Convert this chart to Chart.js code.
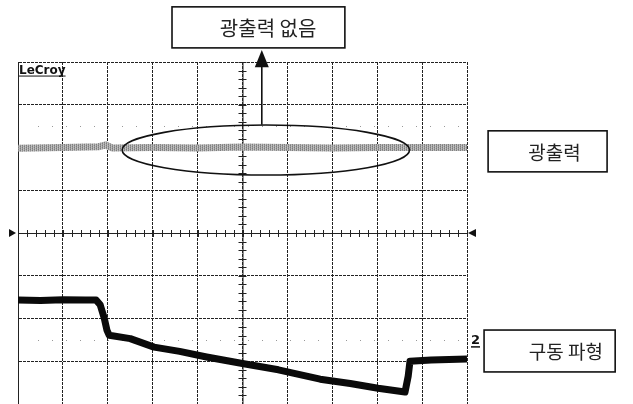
<!DOCTYPE html>
<html><head><meta charset="utf-8">
<script src="https://cdn.jsdelivr.net/npm/chart.js@4/dist/chart.umd.min.js"></script>
<style>html,body{margin:0;padding:0;background:#fff}canvas{display:block}</style>
</head><body>
<canvas id="c" width="633" height="404"></canvas>
<script>
// Oscilloscope screen: 10 horizontal divisions, 8 vertical divisions (centre = 0)
const xDivisions = [0, 10];
const yDivisions = [-4, 4];

// Light output trace (gray, ~flat at +2 div)
const lightX = [0, 1.0, 1.8, 1.95, 2.1, 3.0, 4.0, 5.0, 6.0, 7.0, 8.0, 9.0, 10];
const lightY = [1.98, 2.0, 2.02, 2.06, 1.99, 2.0, 1.99, 2.01, 2.0, 1.99, 2.0, 2.0, 2.0];

// Driving waveform (black)
const driveX = [0, 0.5, 1.0, 1.5, 1.74, 1.83, 1.92, 1.98, 2.03, 2.5, 3.03, 3.6, 4.2, 5.03, 5.8, 6.73, 7.4, 8.02, 8.62, 8.69, 8.73, 9.2, 9.6, 10];
const driveY = [-1.57, -1.58, -1.56, -1.57, -1.57, -1.68, -1.99, -2.27, -2.39, -2.47, -2.67, -2.77, -2.9, -3.06, -3.2, -3.42, -3.52, -3.63, -3.72, -3.35, -3.0, -2.97, -2.96, -2.95];

// Annotation labels
const labelNoOutput = '광출력 없음';
const labelOutput = '광출력';
const labelDrive = '구동 파형';
const brand = 'LeCroy';
const channelMark = '2';

function pts(xs, ys){ return xs.map((x,i)=>({x:x, y:ys[i]})); }

function makePattern(){
  const p = document.createElement('canvas'); p.width = 4; p.height = 4;
  const g = p.getContext('2d');
  const tones = ['#7c7c7c','#b4b4b4','#949494','#c4c4c4'];
  for (let i=0;i<4;i++) for (let j=0;j<4;j++){ g.fillStyle = tones[(i*3+j*2)%4]; g.fillRect(i,j,1,1); }
  return document.getElementById('c').getContext('2d').createPattern(p,'repeat');
}

const overlay = {
  id: 'overlay',
  beforeDatasetsDraw(chart){
    const ctx = chart.ctx, xs = chart.scales.x, ys = chart.scales.y;
    const cx = xs.getPixelForValue(5), cy = ys.getPixelForValue(0);
    ctx.save();
    ctx.strokeStyle = '#222'; ctx.lineWidth = 1;
    ctx.beginPath(); ctx.moveTo(xs.left, cy+0.5); ctx.lineTo(xs.right, cy+0.5); ctx.stroke();
    ctx.beginPath(); ctx.moveTo(cx+0.5, ys.top); ctx.lineTo(cx+0.5, ys.bottom); ctx.stroke();
    for (let v=0; v<=10.001; v+=0.2){
      const px = Math.round(xs.getPixelForValue(v))+0.5;
      ctx.beginPath(); ctx.moveTo(px, cy-3); ctx.lineTo(px, cy+4); ctx.stroke();
    }
    for (let v=-4; v<=4.001; v+=0.2){
      const py = Math.round(ys.getPixelForValue(v))+0.5;
      ctx.beginPath(); ctx.moveTo(cx-4, py); ctx.lineTo(cx+4, py); ctx.stroke();
    }
    ctx.fillStyle = '#999';
    [2.5, -2.5].forEach(v=>{
      const py = Math.round(ys.getPixelForValue(v));
      for (let px = xs.left+20; px < xs.right; px += 14){ ctx.fillRect(px, py, 1, 1); }
    });
    ctx.fillStyle = '#111';
    ctx.beginPath(); ctx.moveTo(xs.left-9, cy-4); ctx.lineTo(xs.left-2, cy); ctx.lineTo(xs.left-9, cy+4); ctx.closePath(); ctx.fill();
    ctx.beginPath(); ctx.moveTo(xs.right+9, cy-4); ctx.lineTo(xs.right+1, cy); ctx.lineTo(xs.right+9, cy+4); ctx.closePath(); ctx.fill();
    ctx.restore();
  },
  afterDraw(chart){
    const ctx = chart.ctx, xs = chart.scales.x, ys = chart.scales.y;
    const X = v => xs.getPixelForValue(v), Y = v => ys.getPixelForValue(v);
    ctx.save();
    ctx.fillStyle = '#111';
    ctx.font = 'bold 12px "DejaVu Sans"';
    ctx.textBaseline = 'alphabetic'; ctx.textAlign = 'left';
    ctx.fillText(brand, X(0)+1, Y(3.8)+3);
    const bw = ctx.measureText(brand).width;
    ctx.fillRect(X(0)+1, Y(3.8)+5, bw, 1);
    ctx.font = 'bold 13px "DejaVu Sans"';
    ctx.fillText(channelMark, X(10)+4, Y(-2.6));
    ctx.fillRect(X(10)+4, Y(-2.6)+2, 9, 1.5);
    ctx.strokeStyle = '#111'; ctx.lineWidth = 1.6;
    ctx.beginPath();
    ctx.ellipse(X(5.52), Y(1.94), X(3.2)-X(0), Y(0)-Y(0.585), 0, 0, Math.PI*2);
    ctx.stroke();
    const ax = X(5.43);
    ctx.beginPath(); ctx.moveTo(ax, Y(2.53)); ctx.lineTo(ax, Y(3.9)); ctx.stroke();
    ctx.beginPath(); ctx.moveTo(ax, Y(4.28)); ctx.lineTo(ax-7, Y(3.88)); ctx.lineTo(ax+7, Y(3.88)); ctx.closePath(); ctx.fill();
    function box(x0,x1,y0,y1,text,tcx,size){
      const l = X(x0), r = X(x1), t = Y(y0), b = Y(y1);
      ctx.fillStyle = '#fff'; ctx.fillRect(l,t,r-l,b-t);
      ctx.strokeStyle = '#111'; ctx.lineWidth = 1.6;
      ctx.strokeRect(l,t,r-l,b-t);
      ctx.fillStyle = '#222';
      ctx.font = size+'px "Noto Sans CJK KR"';
      ctx.textAlign = 'center'; ctx.textBaseline = 'middle';
      ctx.fillText(text, X(tcx), (t+b)/2+1);
    }
    box(3.43, 7.28, 5.29, 4.33, labelNoOutput, 5.57, 20);
    box(10.47, 13.12, 2.39, 1.43, labelOutput, 11.95, 19);
    box(10.38, 13.3, -2.27, -3.25, labelDrive, 12.2, 19);
    ctx.restore();
  }
};

const ctx0 = document.getElementById('c').getContext('2d');
new Chart(ctx0, {
  type: 'line',
  data: {
    datasets: [
      { data: pts(lightX, lightY), borderColor: makePattern(), borderWidth: 7, pointRadius: 0, tension: 0, borderCapStyle: 'butt' },
      { data: pts(driveX, driveY), borderColor: '#0a0a0a', borderWidth: 7, pointRadius: 0, tension: 0, borderJoinStyle: 'round' }
    ]
  },
  options: {
    responsive: false, animation: false, devicePixelRatio: 1,
    layout: { padding: { left: 18, right: 166, top: 62, bottom: 0 } },
    plugins: { legend: { display: false }, tooltip: { enabled: false } },
    scales: {
      x: { type: 'linear', min: xDivisions[0], max: xDivisions[1],
           ticks: { display: false, stepSize: 1 },
           grid: { color: '#222', lineWidth: 1, drawTicks: false },
           border: { display: true, color: '#222', dash: [3, 1] } },
      y: { type: 'linear', min: yDivisions[0], max: yDivisions[1],
           ticks: { display: false, stepSize: 1 },
           grid: { color: '#222', lineWidth: 1, drawTicks: false },
           border: { display: true, color: '#222', dash: [3, 1] } }
    }
  },
  plugins: [overlay]
});
</script>
</body></html>
